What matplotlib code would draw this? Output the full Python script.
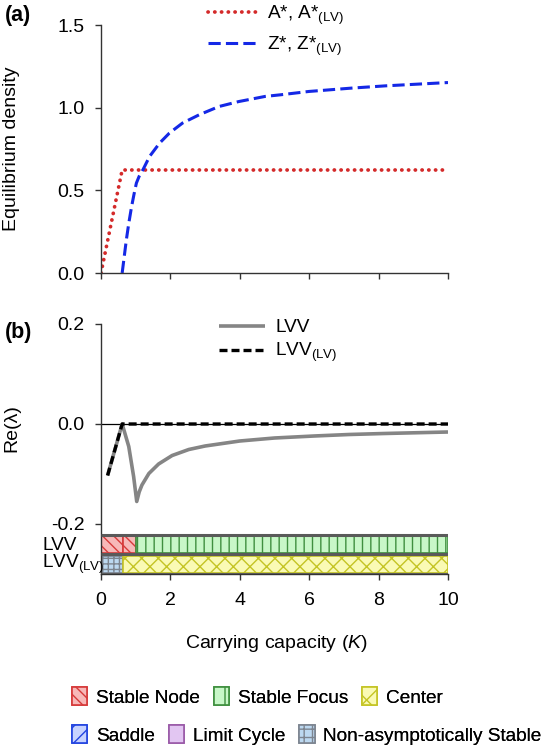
import matplotlib
matplotlib.use("Agg")
import matplotlib.pyplot as plt
from matplotlib.patches import Patch

plt.rcParams["font.family"] = ["Liberation Sans", "DejaVu Sans"]
plt.rcParams["mathtext.fontset"] = "custom"
plt.rcParams["mathtext.rm"] = "Liberation Sans"
plt.rcParams["mathtext.it"] = "Liberation Sans:italic"
plt.rcParams["mathtext.default"] = "regular"
plt.rcParams["axes.unicode_minus"] = False

# =====================================
# data
# =====================================

# panel (a): equilibrium densities
k_a = [0.0, 0.61, 10.0]
a_star = [0.0, 0.623, 0.623]

k_z = [0.61, 0.67, 0.73, 0.80, 0.88, 0.95, 1.02, 1.10, 1.21, 1.40, 1.69,
       1.97, 2.35, 2.83, 3.40, 3.97, 4.73, 5.18, 5.99, 7.20, 8.20, 10.0]
z_star = [0.0, 0.10, 0.20, 0.30, 0.40, 0.475, 0.544, 0.585, 0.625, 0.705,
          0.786, 0.846, 0.907, 0.957, 1.007, 1.037, 1.068, 1.078, 1.098,
          1.118, 1.132, 1.152]

# panel (b): leading eigenvalue real part
k_lvv = [0.19, 0.61, 0.80, 0.94, 1.03, 1.10, 1.18, 1.38, 1.66, 2.05, 2.53,
         3.0, 4.0, 5.0, 6.14, 7.15, 8.16, 10.0]
re_lvv = [-0.103, 0.0, -0.045, -0.105, -0.155, -0.136, -0.122, -0.099,
          -0.080, -0.063, -0.051, -0.044, -0.034, -0.028, -0.024, -0.021,
          -0.019, -0.016]

k_lvv_lv = [0.19, 0.61, 10.0]
re_lvv_lv = [-0.103, 0.0, 0.0]

# stability regions (start, end, type)
lvv_regions = [(0.0, 0.63, "node"), (0.63, 1.0, "node"), (1.0, 10.0, "focus")]
lvv_lv_regions = [(0.0, 0.63, "nonasym"), (0.63, 10.0, "center")]

# =====================================
# styles
# =====================================

STYLES = {
    "node": dict(facecolor="#f7b8b8", edgecolor="#d63a3a", hatch="\\\\\\"),
    "focus": dict(facecolor="#c8f7c8", edgecolor="#3f8f3f", hatch="||"),
    "center": dict(facecolor="#fafab4", edgecolor="#c4c424", hatch="xx"),
    "saddle": dict(facecolor="#c6d2ff", edgecolor="#2244e0", hatch="//"),
    "limit": dict(facecolor="#e2c6f2", edgecolor="#9a5aa8", hatch=""),
    "nonasym": dict(facecolor="#bcd8f0", edgecolor="#7d8590", hatch="+++"),
}
LEGEND_HATCH = {"node": "\\\\\\", "focus": "|", "center": "x",
                "saddle": "//", "limit": "", "nonasym": "++"}
NAMES = {"node": "Stable Node", "focus": "Stable Focus", "center": "Center",
         "saddle": "Saddle", "limit": "Limit Cycle",
         "nonasym": "Non-asymptotically Stable"}

W, H = 550, 746
fig = plt.figure(figsize=(W / 100, H / 100), dpi=100)


def px_axes(x0, x1, ytop, ybot):
    return fig.add_axes([x0 / W, 1 - ybot / H, (x1 - x0) / W, (ybot - ytop) / H])


def style_axes(ax):
    for s in ["top", "right"]:
        ax.spines[s].set_visible(False)
    for s in ["left", "bottom"]:
        ax.spines[s].set_color("#333333")
        ax.spines[s].set_linewidth(1.0)
    ax.tick_params(direction="out", length=4, width=1, color="#333333",
                   labelsize=14, pad=8)


# =====================================
# panel (a)
# =====================================
ax_a = px_axes(101, 448, 25, 273)
style_axes(ax_a)
ax_a.plot(k_a, a_star, color="#d42a2a", lw=2.7, linestyle=(0, (0.05, 1.75)),
          dash_capstyle="round", label=r"A*, A*$_{(LV)}$")
ax_a.plot(k_z, z_star, color="#1428e6", lw=2.2, linestyle=(0, (4, 1.7)),
          label=r"Z*, Z*$_{(LV)}$")
ax_a.set_xlim(0, 10)
ax_a.set_ylim(0, 1.5)
ax_a.set_xticks([0, 2, 4, 6, 8, 10])
ax_a.set_xticklabels([])
ax_a.set_yticks([0.0, 0.5, 1.0, 1.5])
ax_a.set_yticklabels(["0.0", "0.5", "1.0", "1.5"])
ax_a.legend(loc="upper left", bbox_to_anchor=(0.308, 1.085), frameon=False,
            fontsize=13.7, handlelength=2.6, handletextpad=0.5,
            labelspacing=0.4, borderpad=0, borderaxespad=0)

# =====================================
# panel (b)
# =====================================
ax_b = px_axes(101, 448, 324, 574)
style_axes(ax_b)
ax_b.plot([0, 10], [0, 0], color="black", lw=0.9, zorder=1)
ax_b.plot(k_lvv, re_lvv, color="#858585", lw=2.6, solid_capstyle="butt",
          solid_joinstyle="round", label="LVV", zorder=2)
ax_b.plot(k_lvv_lv, re_lvv_lv, color="black", lw=2.4,
          linestyle=(0, (2.4, 1.2)), label=r"LVV$_{(LV)}$", zorder=3)

# stability bars
row_y = {"lvv": -0.240, "lvvlv": -0.280}
bar_h = 0.034
for start, end, kind in lvv_regions:
    ax_b.barh(row_y["lvv"], end - start, left=start, height=bar_h,
              linewidth=1.2, **STYLES[kind], zorder=2)
for start, end, kind in lvv_lv_regions:
    ax_b.barh(row_y["lvvlv"], end - start, left=start, height=bar_h,
              linewidth=1.2, **STYLES[kind], zorder=2)
for yy in [-0.221, -0.260, -0.299]:
    ax_b.plot([0, 10], [yy, yy], color="#5a5a5a", lw=2.2, zorder=4,
              solid_capstyle="butt")

ax_b.set_xlim(0, 10)
ax_b.set_ylim(-0.3, 0.2)
ax_b.set_xticks([0, 2, 4, 6, 8, 10])
ax_b.set_yticks([-0.2, 0.0, 0.2])
ax_b.set_yticklabels(["-0.2", "0.0", "0.2"])
ax_b.tick_params(axis="x", pad=9)
ax_b.legend(loc="upper left", bbox_to_anchor=(0.34, 1.02), frameon=False,
            fontsize=13.7, handlelength=2.4, handletextpad=0.55,
            labelspacing=0.25, borderpad=0, borderaxespad=0)

# =====================================
# labels
# =====================================
fig.text(18 / W, 1 - 16 / H, "(a)", fontsize=15.5, fontweight="bold",
         ha="center", va="center")
fig.text(19 / W, 1 - 332 / H, "(b)", fontsize=15.5, fontweight="bold",
         ha="center", va="center")
fig.text(12 / W, 1 - 149 / H, "Equilibrium density", fontsize=14,
         rotation=90, ha="center", va="center")
fig.text(12 / W, 1 - 428 / H, "Re(λ)", fontsize=14, rotation=90,
         ha="center", va="center")
fig.text(276 / W, 1 - 643 / H, r"Carrying capacity ($\mathit{K}$)",
         fontsize=14, ha="center", va="center")
fig.text(42 / W, 1 - 545 / H, "LVV", fontsize=13.7, ha="left", va="center")
fig.text(42 / W, 1 - 564 / H, r"LVV$_{(LV)}$", fontsize=13.7, ha="left",
         va="center")


# =====================================
# bottom legend (two independent rows)
# =====================================
def patch(kind):
    st = dict(STYLES[kind])
    st["hatch"] = LEGEND_HATCH[kind]
    return Patch(linewidth=1.2, label=NAMES[kind], **st)


rows = [(["node", "focus", "center"], 697), (["saddle", "limit", "nonasym"], 735)]
for kinds, yrow in rows:
    leg = fig.legend(handles=[patch(k) for k in kinds], loc="center left",
                     bbox_to_anchor=(72 / W, 1 - yrow / H), ncol=3,
                     frameon=False, fontsize=13.7, handlelength=0.8,
                     handleheight=1.1, handletextpad=0.45,
                     columnspacing=0.75, borderpad=0, borderaxespad=0)
    fig.add_artist(leg)

fig.savefig("out.png", dpi=100)
